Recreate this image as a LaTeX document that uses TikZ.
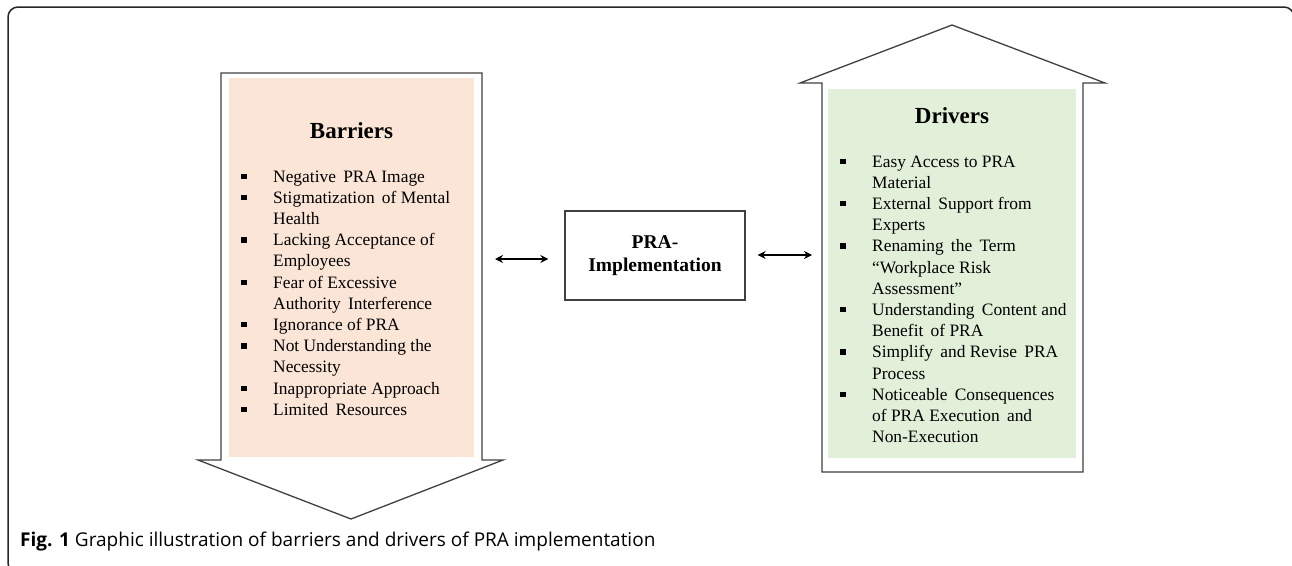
\documentclass[tikz,border=0pt]{standalone}
\usepackage{fontspec}
\setmainfont{Liberation Serif}
\newfontfamily\capfont{Open Sans}
\usetikzlibrary{arrows.meta}
\definecolor{barrfill}{HTML}{FBE5D6}
\definecolor{drvfill}{HTML}{E2F0D9}
\definecolor{outline}{HTML}{404040}
\newcommand{\sqbullet}{\llap{\raisebox{3pt}{\rule{5.5pt}{5.5pt}}\hspace{26.5pt}}}
\tikzset{
  bigarrow/.style={draw=outline, line width=1.3pt, fill=white, line join=miter},
  panel/.style={draw=none, inner sep=0pt, anchor=north west},
  paneltitle/.style={font=\fontsize{23}{27}\selectfont\bfseries, inner sep=0pt, anchor=base},
  % multi-line lists are anchored at the baseline of their last line
  itemlist/.style={font=\fontsize{17.4}{21.2}\selectfont, align=left, inner sep=0pt, anchor=base west},
  centerbox/.style={draw=outline, line width=1.3pt, minimum width=180pt, minimum height=89pt,
    font=\fontsize{19.5}{23}\selectfont\bfseries, align=center, inner sep=0pt},
  dblarrow/.style={{Stealth[length=8pt,width=8pt]}-{Stealth[length=8pt,width=8pt]}, line width=2pt, black},
  frame/.style={draw=black!85, line width=1.5pt, rounded corners=10pt}
}
\begin{document}
\begin{tikzpicture}[x=1pt,y=-1pt]
\useasboundingbox (0,0) rectangle (1292,565);
% outer figure frame, running past the right and bottom edges
\begin{scope}
  \clip (0,0) rectangle (1292,565);
  \draw[frame] (8,7) rectangle (1294,573);
\end{scope}

% barriers: downward block arrow
\draw[bigarrow] (221,73) -- (482,73) -- (482,460) -- (503,460) -- (351,519)
  -- (198,460) -- (221,460) -- cycle;
\node[panel, fill=barrfill, minimum width=245pt, minimum height=379pt] (barrbox) at (229,78) {};
\node[paneltitle] (barrtitle) at (351.5,138) {Barriers};
\node[itemlist] (barrlist) at (273,415.2) {%
\sqbullet Negative\, PRA Image\\
\sqbullet Stigmatization\, of Mental\\
Health\\
\sqbullet Lacking Acceptance of\\
Employees\\
\sqbullet Fear of Excessive\\
Authority\, Interference\\
\sqbullet Ignorance of PRA\\
\sqbullet Not Understanding the\\
Necessity\\
\sqbullet Inappropriate Approach\\
\sqbullet Limited\, Resources};

% drivers: upward block arrow
\draw[bigarrow] (952,25) -- (1105,83) -- (1083,83) -- (1083,472) -- (822,472)
  -- (822,83) -- (800,83) -- cycle;
\node[panel, fill=drvfill, minimum width=248pt, minimum height=369pt] (drvbox) at (828,89) {};
\node[paneltitle] (drvtitle) at (952,123) {Drivers};
\node[itemlist] (drvlist) at (872,442.6) {%
\sqbullet Easy Access to PRA\\
Material\\
\sqbullet External\, Support from\\
Experts\\
\sqbullet Renaming\, the\, Term\\
``Workplace Risk\\
Assessment''\\
\sqbullet Understanding\, Content and\\
Benefit\, of PRA\\
\sqbullet Simplify\, and Revise\, PRA\\
Process\\
\sqbullet Noticeable\, Consequences\\
of PRA Execution\, and\\
Non-Execution};

% central box and links
\node[centerbox] (pra) at (655,255.5) {PRA-\\Implementation};
\coordinate (barrlink) at (495,259);
\coordinate (drvlink) at (812,255);
\draw[dblarrow] (barrlink) -- ([xshift=-16pt]pra.west |- barrlink);
\draw[dblarrow] ([xshift=12pt]pra.east |- drvlink) -- (drvlink);

% caption
\node[anchor=base west, inner sep=0pt, font=\capfont\fontsize{19}{23}\selectfont] (caption) at (20,546)
  {\textbf{Fig. 1} Graphic illustration of barriers and drivers of PRA implementation};
\end{tikzpicture}
\end{document}
